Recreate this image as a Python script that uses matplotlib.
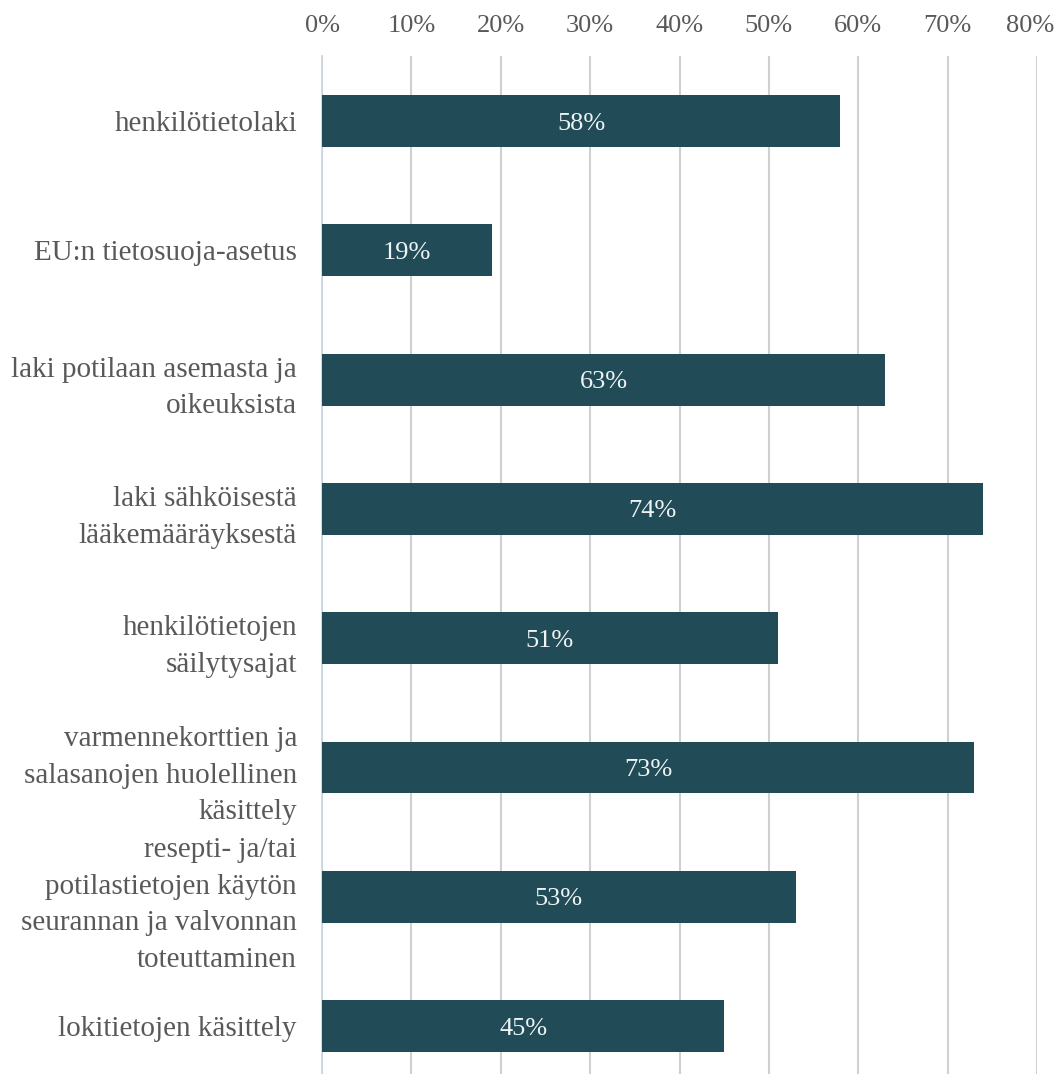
import numpy as np
import matplotlib.pyplot as plt
import matplotlib.transforms as mtransforms

plt.rcParams['font.family'] = ['Liberation Serif', 'DejaVu Serif']

# Data
categories = [
    "henkilötietolaki",
    "EU:n tietosuoja-asetus",
    "laki potilaan asemasta ja\noikeuksista",
    "laki sähköisestä\nlääkemääräyksestä",
    "henkilötietojen\nsäilytysajat",
    "varmennekorttien ja\nsalasanojen huolellinen\nkäsittely",
    "resepti- ja/tai\npotilastietojen käytön\nseurannan ja valvonnan\ntoteuttaminen",
    "lokitietojen käsittely",
]
values = [58, 19, 63, 74, 51, 73, 53, 45]
xticks = [0, 10, 20, 30, 40, 50, 60, 70, 80]
xtick_labels = [f"{t}%" for t in xticks]

bar_color = '#214b56'
text_gray = '#595959'

fig = plt.figure(figsize=(10.57, 10.74), dpi=100)
ax = fig.add_axes([322 / 1057, 0.0, (1037 - 322) / 1057, 1 - 56.4 / 1074])

y = np.arange(len(categories))
bars = ax.barh(y, values, height=0.40, color=bar_color, zorder=3)

for yi, v in zip(y, values):
    ax.text(v / 2, yi, f"{v}%", ha='center', va='center_baseline',
            color='#eef3f5', fontsize=19, zorder=4)

ax.set_xlim(0, 80)
ax.set_ylim(7.37, -0.5)
ax.set_yticks(y)
ax.set_yticklabels(categories, fontsize=21, color=text_gray, linespacing=1.53)
ax.set_xticks(xticks)
ax.set_xticklabels(xtick_labels, fontsize=19, color=text_gray)
ax.xaxis.tick_top()
ax.tick_params(axis='x', length=0, pad=14)
ax.tick_params(axis='y', length=0, pad=18)

# last tick label sits a bit left so it stays inside the figure
last = ax.get_xticklabels()[-1]
last.set_transform(last.get_transform() +
                   mtransforms.ScaledTranslation(-7 / 100, 0, fig.dpi_scale_trans))

ax.grid(axis='x', color='#d0d0d0', linewidth=1.5, zorder=0)
ax.set_axisbelow(True)
for side in ['top', 'right', 'bottom']:
    ax.spines[side].set_visible(False)
ax.spines['left'].set_color('#c8d5e2')
ax.spines['left'].set_linewidth(1.2)

fig.savefig('out.png', dpi=100)
